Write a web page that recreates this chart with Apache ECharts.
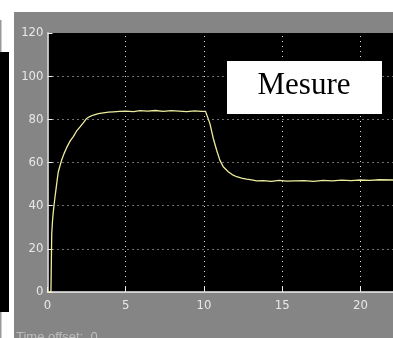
<!DOCTYPE html>
<html><head><meta charset="utf-8">
<script src="https://cdn.jsdelivr.net/npm/echarts@6/dist/echarts.min.js"></script>
<style>html,body{margin:0;padding:0;background:#fff}#c{width:393px;height:338px}</style>
</head><body><div id="c"></div>
<script>
const timeS = [0, 0.22, 0.27, 0.32, 0.37, 0.43, 0.48, 0.55, 0.62, 0.69, 0.8, 0.9, 1.05, 1.23, 1.45, 1.65, 1.85, 2.08, 2.3, 2.5, 2.7, 2.93, 3.25, 3.57, 3.9, 4.2, 4.6, 5.0, 5.5, 5.9, 6.4, 6.9, 7.4, 7.9, 8.4, 8.9, 9.4, 9.8, 10.1, 10.2, 10.38, 10.6, 10.81, 11.02, 11.23, 11.55, 11.8, 12.09, 12.4, 12.73, 13.05, 13.37, 13.8, 14.3, 14.8, 15.3, 15.8, 16.4, 17, 17.6, 18.2, 18.8, 19.4, 20, 20.6, 21.2, 22.1];
const mesure = [0, 0, 27, 33, 37, 41, 44, 48, 52, 55.7, 58.5, 61, 64, 67, 70, 72, 74.5, 76.5, 78.5, 80.4, 81.3, 82, 82.6, 83, 83.3, 83.5, 83.7, 83.8, 83.6, 84, 83.8, 84.1, 83.7, 84, 83.8, 83.6, 83.9, 83.7, 83.7, 83, 78, 71, 65.7, 61, 58, 55.7, 54.4, 53.4, 52.8, 52.3, 51.9, 51.5, 51.6, 51.3, 51.7, 51.4, 51.5, 51.6, 51.3, 51.7, 51.5, 51.8, 51.6, 51.9, 51.7, 52, 51.9];
const xGrid = [5, 10, 15, 20];
const yGrid = [20, 40, 60, 80, 100];
const legendLabel = "Mesure";
const bottomText = "Time offset:  0";

const chart = echarts.init(document.getElementById('c'));
const labelFont = {color: '#e8e8e8', fontFamily: '"Liberation Sans Narrow", "DejaVu Sans Condensed", sans-serif', fontSize: 13};
const gridLine = {color: '#e0e0e0', type: [1, 4], width: 1};
chart.setOption({
  backgroundColor: '#858585',
  animation: false,
  grid: {left: 47.5, top: 33, right: 0, bottom: 46, show: true, backgroundColor: '#000', borderWidth: 0},
  xAxis: {type: 'value', min: 0, max: 22.08, interval: 5,
    axisLine: {show: true, lineStyle: {color: '#f0f0f0', width: 1.5}},
    axisTick: {show: true, inside: true, length: 5, lineStyle: {color: '#f0f0f0'}},
    axisLabel: Object.assign({margin: 7, showMaxLabel: false}, labelFont),
    splitLine: {show: false}},
  yAxis: {type: 'value', min: 0, max: 120, interval: 20,
    axisLine: {show: true, lineStyle: {color: '#f0f0f0', width: 1.5}},
    axisTick: {show: true, inside: true, length: 5, lineStyle: {color: '#f0f0f0'}},
    axisLabel: Object.assign({margin: 4}, labelFont),
    splitLine: {show: false}},
  series: [{
    type: 'line', name: legendLabel,
    data: timeS.map((t, i) => [t, mesure[i]]),
    showSymbol: false, symbol: 'none',
    lineStyle: {color: '#ecec9c', width: 1.3},
    markLine: {silent: true, symbol: ['none', 'none'], label: {show: false},
      lineStyle: gridLine,
      data: xGrid.map(v => ({xAxis: v})).concat(yGrid.map(v => ({yAxis: v})))},
    z: 3
  }],
  graphic: [
    {type: 'rect', shape: {x: 0, y: 0, width: 393, height: 12}, style: {fill: '#fff'}},
    {type: 'rect', shape: {x: 0, y: 0, width: 14, height: 338}, style: {fill: '#fff'}},
    {type: 'rect', shape: {x: 0, y: 52, width: 9, height: 260}, style: {fill: '#000'}},
    {type: 'rect', shape: {x: 0, y: 20, width: 1.5, height: 32}, style: {fill: '#999'}},
    {type: 'rect', shape: {x: 0, y: 312, width: 1.5, height: 26}, style: {fill: '#999'}},
    {type: 'rect', z: 100, shape: {x: 227, y: 61, width: 155, height: 53}, style: {fill: '#fff'}},
    {type: 'text', z: 101, style: {x: 304, y: 86, text: legendLabel, fill: '#000', font: '31px "Liberation Serif", serif', textAlign: 'center', textVerticalAlign: 'middle'}},
    {type: 'text', z: 101, style: {x: 16, y: 331, text: bottomText, fill: '#bdbdbd', font: '13px "Liberation Sans", sans-serif', textAlign: 'left', textVerticalAlign: 'top'}}
  ]
});
</script></body></html>
